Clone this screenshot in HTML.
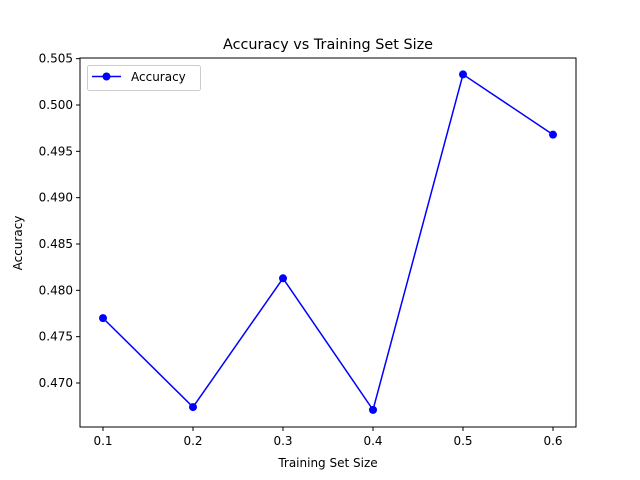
<!DOCTYPE html>
<html><head><meta charset="utf-8"><style>body{margin:0;background:#fff}svg{display:block;font-family:"DejaVu Sans","Liberation Sans",sans-serif}</style></head>
<body>
<svg id="chart" width="640" height="480">
<rect x="0" y="0" width="640" height="480" fill="#fff"/>
<g id="plot"></g>
</svg>
<script>
const xValues = [0.1, 0.2, 0.3, 0.4, 0.5, 0.6];
const accuracy = [0.4770, 0.4674, 0.4813, 0.4671, 0.5033, 0.4968];
const xTicks = [0.1, 0.2, 0.3, 0.4, 0.5, 0.6];
const yTicks = [0.470, 0.475, 0.480, 0.485, 0.490, 0.495, 0.500, 0.505];

const L = 80, R = 576, T = 58, B = 427;
const sx = v => 103 + (v - 0.1) * 900;
const sy = v => 383 - (v - 0.470) * 9267;
const NS = 'http://www.w3.org/2000/svg';
const g = document.getElementById('plot');
function mk(tag, attrs, text) {
  const e = document.createElementNS(NS, tag);
  for (const k in attrs) e.setAttribute(k, attrs[k]);
  if (text !== undefined) e.textContent = text;
  g.appendChild(e);
  return e;
}
let e;
e = mk('rect', {x: L, y: T, width: R - L, height: B - T, fill: 'none', stroke: '#000', 'stroke-width': 1});


xTicks.forEach(t => {
  const x = sx(t);
  e = mk('line', {x1: x, x2: x, y1: B, y2: B + 4, stroke: '#000'});
  
  
  e = mk('text', {x: x, y: B + 18, 'font-size': 12, 'text-anchor': 'middle'}, t.toFixed(1));
  
  
});
yTicks.forEach(t => {
  const y = sy(t);
  e = mk('line', {x1: L - 4, x2: L, y1: y, y2: y, stroke: '#000'});
  
  
  e = mk('text', {x: L - 7, y: y + 4, 'font-size': 12, 'text-anchor': 'end'}, t.toFixed(3));
  
  
});
e = mk('polyline', {points: xValues.map((v, i) => sx(v) + ',' + sy(accuracy[i])).join(' '), fill: 'none', stroke: '#0000ff', 'stroke-width': 1.5});


xValues.forEach((v, i) => {
  e = mk('circle', {cx: sx(v), cy: sy(accuracy[i]), r: 4, fill: '#0000ff'});
  
  
});
e = mk('text', {x: 328, y: 49, 'font-size': 14.4, 'text-anchor': 'middle'}, 'Accuracy vs Training Set Size');


e = mk('text', {x: 328, y: 467, 'font-size': 12, 'text-anchor': 'middle'}, 'Training Set Size');


e = mk('text', {x: 22, y: 243, 'font-size': 12, 'text-anchor': 'middle', transform: 'rotate(-90 22 243)'}, 'Accuracy');


e = mk('rect', {x: 87.5, y: 65.5, width: 113, height: 25, rx: 2, fill: '#fff', stroke: '#ccc'});


e = mk('line', {x1: 92, x2: 121, y1: 76.5, y2: 76.5, stroke: '#0000ff', 'stroke-width': 1.5});


e = mk('circle', {cx: 106.5, cy: 76.5, r: 4, fill: '#0000ff'});


e = mk('text', {x: 131, y: 81, 'font-size': 12}, 'Accuracy');


</script>
</body></html>
